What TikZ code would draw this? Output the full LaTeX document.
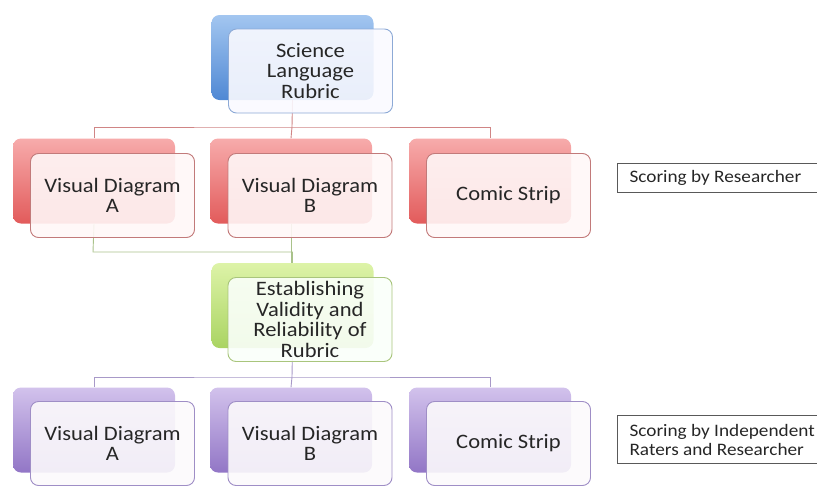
\documentclass[tikz,border=0pt]{standalone}
\usepackage{fontspec}
\setmainfont{Carlito}[FakeStretch=1.1]
\definecolor{bluetop}{HTML}{A3C6F0}
\definecolor{bluebot}{HTML}{4F88D4}
\definecolor{blueedge}{HTML}{8DAAD6}
\definecolor{redtop}{HTML}{F7ABAB}
\definecolor{redbot}{HTML}{E25B5B}
\definecolor{rededge}{HTML}{C27A7A}
\definecolor{redline}{HTML}{D08585}
\definecolor{greentop}{HTML}{DDF3A8}
\definecolor{greenbot}{HTML}{AAD462}
\definecolor{greenedge}{HTML}{A9C57C}
\definecolor{greenline}{HTML}{A9C28A}
\definecolor{purpletop}{HTML}{D2C2EC}
\definecolor{purplebot}{HTML}{9276C6}
\definecolor{purpleedge}{HTML}{9F8EC6}
\definecolor{purpleline}{HTML}{A899C8}
\definecolor{notetext}{HTML}{262626}
\begin{document}
\begin{tikzpicture}[x=1pt,y=-1pt,
  back/.style={rounded corners=8pt, minimum width=162pt, minimum height=85pt, inner sep=0pt},
  front/.style={draw=#1, line width=0.9pt, rounded corners=8pt, minimum width=164pt, minimum height=84pt,
    inner sep=2pt, fill opacity=0.9, text opacity=1, align=center,
    font=\fontsize{20.5}{20.5}\selectfont, text=notetext},
  blueback/.style={back, top color=bluetop, bottom color=bluebot},
  redback/.style={back, top color=redtop, bottom color=redbot},
  greenback/.style={back, top color=greentop, bottom color=greenbot},
  purpleback/.style={back, top color=purpletop, bottom color=purplebot},
  link/.style={line width=0.9pt, draw=#1},
  note/.style={draw=black!65, line width=1.2pt, inner sep=0pt, anchor=north west, minimum width=210pt},
  notetxt/.style={anchor=west, align=left, text=notetext, font=\fontsize{17.5}{19.5}\selectfont},
]
\useasboundingbox (0,0) rectangle (817,485);

% joints of the tree connectors
\coordinate (topjoin) at (292,127);
\coordinate (midjoin) at (93,252);
\coordinate (lowjoin) at (292,377);

% shaded back cards
\node[blueback] (sciB) at (292.5,57.5) {};
\node[redback] (vaB) at (94,181) {};
\node[redback] (vbB) at (291,181) {};
\node[redback] (csB) at (490,181) {};
\node[greenback] (valB) at (292.5,305.5) {};
\node[purpleback] (va2B) at (94,430) {};
\node[purpleback] (vb2B) at (291,430) {};
\node[purpleback] (cs2B) at (490,430) {};

% connectors, under the front cards
\draw[link=redline] (sciB.south) -- (topjoin);
\draw[link=redline] (vaB.north) |- (topjoin) -| (csB.north);
\draw[link=redline] (topjoin) -- (vbB.north);

\draw[link=greenline] (vaB.south) -- (midjoin) -| (valB.north);
\draw[link=greenline] (vbB.south) -- (vbB.south |- valB.north);

\draw[link=purpleline] (valB.south) -- (lowjoin);
\draw[link=purpleline] (va2B.north) |- (lowjoin) -| (cs2B.north);
\draw[link=purpleline] (lowjoin) -- (vb2B.north);

% front cards with the labels
\node[front=blueedge, fill=blue!2!white] (sci) at (310.5,71) {Science\\Language\\Rubric};
\node[front=rededge, fill=red!3!white] (va) at (112.5,195.5) {Visual Diagram\\A};
\node[front=rededge, fill=red!3!white] (vb) at (310,195.5) {Visual Diagram\\B};
\node[front=rededge, fill=red!3!white] (cs) at (508.5,195.5) {Comic Strip};
\node[front=greenedge, fill=green!2!white] (val) at (310,319.5) {Establishing\\Validity and\\Reliability of\\Rubric};
\node[front=purpleedge, fill=violet!2!white] (va2) at (112.5,443.5) {Visual Diagram\\A};
\node[front=purpleedge, fill=violet!2!white] (vb2) at (310,443.5) {Visual Diagram\\B};
\node[front=purpleedge, fill=violet!2!white] (cs2) at (508.5,443.5) {Comic Strip};

% side notes
\node[note, minimum height=29pt] (n1) at (617,163) {};
\node[notetxt] (n1t) at (626,178) {Scoring by Researcher};
\node[note, minimum height=48pt] (n2) at (617,415) {};
\node[notetxt] (n2t) at (626,440) {Scoring by Independent\\Raters and Researcher};
\end{tikzpicture}
\end{document}
